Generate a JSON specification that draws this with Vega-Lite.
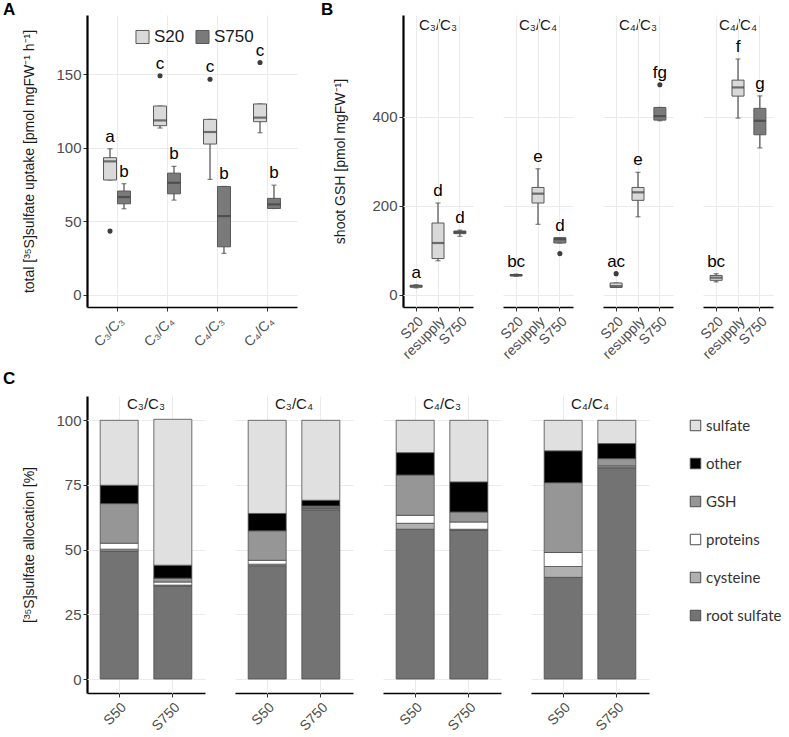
{
  "$schema": "https://vega.github.io/schema/vega-lite/v6.json",
  "padding": {"left": 2, "top": 1, "right": 0, "bottom": 0},
  "background": "white",
  "config": {
    "font": "Liberation Sans",
    "view": {"stroke": null},
    "axis": {"labelFont": "Liberation Sans", "labelColor": "#4d4d4d", "labelFontSize": 15, "titleFont": "Liberation Sans", "titleFontWeight": "normal", "titleColor": "#1a1a1a", "titleFontSize": 14, "domainColor": "#000000", "domainWidth": 1.6, "tickColor": "#333333", "tickSize": 4, "gridColor": "#ebebeb", "gridWidth": 1},
    "axisX": {"labelAngle": -45, "labelAlign": "right", "labelBaseline": "top", "labelFontSize": 14, "labelPadding": 3, "grid": true},
    "axisY": {"grid": true},
    "header": {"labelFont": "Liberation Sans", "labelFontSize": 15, "labelColor": "#1a1a1a"},
    "title": {"font": "Liberation Sans", "fontSize": 17, "fontWeight": "bold", "anchor": "start", "frame": "bounds", "color": "#000000"}
  },
  "datasets": {
    "a": [
      {"graft": "C₃/C₃", "trt": "S20", "lo": 78, "q1": 78, "med": 90.7, "q3": 93.2, "hi": 99.3, "out": 43.2, "letter": "a"},
      {"graft": "C₃/C₃", "trt": "S750", "lo": 58.4, "q1": 61.8, "med": 66.4, "q3": 70.5, "hi": 75.5, "out": null, "letter": "b"},
      {"graft": "C₃/C₄", "trt": "S20", "lo": 113.4, "q1": 115, "med": 118.6, "q3": 128.4, "hi": 128.4, "out": 149, "letter": "c"},
      {"graft": "C₃/C₄", "trt": "S750", "lo": 64.3, "q1": 68.6, "med": 76.1, "q3": 82.7, "hi": 87.3, "out": null, "letter": "b"},
      {"graft": "C₄/C₃", "trt": "S20", "lo": 78.4, "q1": 102.5, "med": 110.7, "q3": 119.3, "hi": 119.3, "out": 146.6, "letter": "c"},
      {"graft": "C₄/C₃", "trt": "S750", "lo": 28, "q1": 32.5, "med": 53.4, "q3": 73.6, "hi": 73.6, "out": null, "letter": "b"},
      {"graft": "C₄/C₄", "trt": "S20", "lo": 110.2, "q1": 117.7, "med": 120.5, "q3": 129.8, "hi": 129.8, "out": 158, "letter": "c"},
      {"graft": "C₄/C₄", "trt": "S750", "lo": 58.6, "q1": 58.6, "med": 61.4, "q3": 65.5, "hi": 74.5, "out": null, "letter": "b"}
    ],
    "b": [
      {"graft": "C₃/C₃", "trt": "S20", "lo": 15, "q1": 16.5, "med": 18.8, "q3": 21, "hi": 22, "out": null, "letter": "a"},
      {"graft": "C₃/C₃", "trt": "resupply", "lo": 76, "q1": 81, "med": 116, "q3": 161, "hi": 206, "out": null, "letter": "d"},
      {"graft": "C₃/C₃", "trt": "S750", "lo": 131, "q1": 137, "med": 140, "q3": 143, "hi": 145, "out": null, "letter": "d"},
      {"graft": "C₃/C₄", "trt": "S20", "lo": 41, "q1": 42, "med": 43.5, "q3": 45, "hi": 46, "out": null, "letter": "bc"},
      {"graft": "C₃/C₄", "trt": "resupply", "lo": 158, "q1": 206, "med": 227, "q3": 241, "hi": 283, "out": null, "letter": "e"},
      {"graft": "C₃/C₄", "trt": "S750", "lo": 116, "q1": 116, "med": 124.6, "q3": 128, "hi": 128, "out": 92, "letter": "d"},
      {"graft": "C₄/C₃", "trt": "S20", "lo": 16, "q1": 16, "med": 19, "q3": 26, "hi": 26, "out": 47, "letter": "ac"},
      {"graft": "C₄/C₃", "trt": "resupply", "lo": 175, "q1": 212, "med": 230, "q3": 241, "hi": 275, "out": null, "letter": "e"},
      {"graft": "C₄/C₃", "trt": "S750", "lo": 391, "q1": 392.5, "med": 401.5, "q3": 421, "hi": 421, "out": 472, "letter": "fg"},
      {"graft": "C₄/C₄", "trt": "S20", "lo": 28.5, "q1": 32, "med": 38, "q3": 43, "hi": 47, "out": null, "letter": "bc"},
      {"graft": "C₄/C₄", "trt": "resupply", "lo": 397, "q1": 446.5, "med": 466, "q3": 482.5, "hi": 530, "out": null, "letter": "f"},
      {"graft": "C₄/C₄", "trt": "S750", "lo": 330, "q1": 359.5, "med": 391, "q3": 419, "hi": 447, "out": null, "letter": "g"}
    ],
    "c": [
      {"graft": "C₃/C₃", "supply": "S50", "fraction": "root sulfate", "value": 49.5},
      {"graft": "C₃/C₃", "supply": "S50", "fraction": "cysteine", "value": 0.7},
      {"graft": "C₃/C₃", "supply": "S50", "fraction": "proteins", "value": 2.3},
      {"graft": "C₃/C₃", "supply": "S50", "fraction": "GSH", "value": 15.3},
      {"graft": "C₃/C₃", "supply": "S50", "fraction": "other", "value": 7.1},
      {"graft": "C₃/C₃", "supply": "S50", "fraction": "sulfate", "value": 25.1},
      {"graft": "C₃/C₃", "supply": "S750", "fraction": "root sulfate", "value": 35.8},
      {"graft": "C₃/C₃", "supply": "S750", "fraction": "cysteine", "value": 0.5},
      {"graft": "C₃/C₃", "supply": "S750", "fraction": "proteins", "value": 1.2},
      {"graft": "C₃/C₃", "supply": "S750", "fraction": "GSH", "value": 1.5},
      {"graft": "C₃/C₃", "supply": "S750", "fraction": "other", "value": 5.0},
      {"graft": "C₃/C₃", "supply": "S750", "fraction": "sulfate", "value": 56.4},
      {"graft": "C₃/C₄", "supply": "S50", "fraction": "root sulfate", "value": 43.8},
      {"graft": "C₃/C₄", "supply": "S50", "fraction": "cysteine", "value": 0.6},
      {"graft": "C₃/C₄", "supply": "S50", "fraction": "proteins", "value": 1.5},
      {"graft": "C₃/C₄", "supply": "S50", "fraction": "GSH", "value": 11.4},
      {"graft": "C₃/C₄", "supply": "S50", "fraction": "other", "value": 6.7},
      {"graft": "C₃/C₄", "supply": "S50", "fraction": "sulfate", "value": 36.0},
      {"graft": "C₃/C₄", "supply": "S750", "fraction": "root sulfate", "value": 65.4},
      {"graft": "C₃/C₄", "supply": "S750", "fraction": "cysteine", "value": 0.5},
      {"graft": "C₃/C₄", "supply": "S750", "fraction": "proteins", "value": 0.3},
      {"graft": "C₃/C₄", "supply": "S750", "fraction": "GSH", "value": 0.7},
      {"graft": "C₃/C₄", "supply": "S750", "fraction": "other", "value": 2.2},
      {"graft": "C₃/C₄", "supply": "S750", "fraction": "sulfate", "value": 30.9},
      {"graft": "C₄/C₃", "supply": "S50", "fraction": "root sulfate", "value": 57.9},
      {"graft": "C₄/C₃", "supply": "S50", "fraction": "cysteine", "value": 2.3},
      {"graft": "C₄/C₃", "supply": "S50", "fraction": "proteins", "value": 3.1},
      {"graft": "C₄/C₃", "supply": "S50", "fraction": "GSH", "value": 15.6},
      {"graft": "C₄/C₃", "supply": "S50", "fraction": "other", "value": 8.6},
      {"graft": "C₄/C₃", "supply": "S50", "fraction": "sulfate", "value": 12.5},
      {"graft": "C₄/C₃", "supply": "S750", "fraction": "root sulfate", "value": 57.6},
      {"graft": "C₄/C₃", "supply": "S750", "fraction": "cysteine", "value": 0.3},
      {"graft": "C₄/C₃", "supply": "S750", "fraction": "proteins", "value": 2.8},
      {"graft": "C₄/C₃", "supply": "S750", "fraction": "GSH", "value": 3.9},
      {"graft": "C₄/C₃", "supply": "S750", "fraction": "other", "value": 11.6},
      {"graft": "C₄/C₃", "supply": "S750", "fraction": "sulfate", "value": 23.8},
      {"graft": "C₄/C₄", "supply": "S50", "fraction": "root sulfate", "value": 39.3},
      {"graft": "C₄/C₄", "supply": "S50", "fraction": "cysteine", "value": 4.2},
      {"graft": "C₄/C₄", "supply": "S50", "fraction": "proteins", "value": 5.4},
      {"graft": "C₄/C₄", "supply": "S50", "fraction": "GSH", "value": 27.0},
      {"graft": "C₄/C₄", "supply": "S50", "fraction": "other", "value": 12.3},
      {"graft": "C₄/C₄", "supply": "S50", "fraction": "sulfate", "value": 11.8},
      {"graft": "C₄/C₄", "supply": "S750", "fraction": "root sulfate", "value": 81.5},
      {"graft": "C₄/C₄", "supply": "S750", "fraction": "cysteine", "value": 0.5},
      {"graft": "C₄/C₄", "supply": "S750", "fraction": "proteins", "value": 0.4},
      {"graft": "C₄/C₄", "supply": "S750", "fraction": "GSH", "value": 2.8},
      {"graft": "C₄/C₄", "supply": "S750", "fraction": "other", "value": 5.8},
      {"graft": "C₄/C₄", "supply": "S750", "fraction": "sulfate", "value": 9.0}
    ]
  },
  "spacing": 8,
  "resolve": {"scale": {"color": "independent"}, "legend": {"color": "independent"}},
  "vconcat": [
    {
      "spacing": 23,
      "resolve": {"scale": {"color": "independent"}, "legend": {"color": "independent"}},
      "hconcat": [
        {
          "title": {"text": "A", "offset": -4, "dx": -20},
          "width": 210,
          "height": 292,
          "data": {"name": "a"},
          "transform": [{"calculate": "isValid(datum.out) ? max(datum.hi, datum.out) : datum.hi", "as": "top"}],
          "encoding": {
            "x": {"field": "graft", "type": "nominal", "sort": null, "title": null, "scale": {"paddingOuter": 0.1, "paddingInner": 0}},
            "xOffset": {"field": "trt", "type": "nominal", "sort": ["S20", "S750"], "scale": {"paddingOuter": 0.79, "paddingInner": 0}}
          },
          "layer": [
            {"mark": {"type": "rule", "color": "#4d4d4d", "strokeWidth": 1.2},
             "encoding": {"y": {"field": "lo", "type": "quantitative", "scale": {"domain": [-8.5, 190.4], "nice": false, "zero": false},
               "axis": {"values": [0, 50, 100, 150], "domainWidth": 2.2, "titlePadding": 19, "title": "total [³⁵S]sulfate uptake [pmol mgFW⁻¹ h⁻¹]"}},
               "y2": {"field": "hi"}}},
            {"mark": {"type": "tick", "color": "#4d4d4d", "size": 5, "thickness": 1.2}, "encoding": {"y": {"field": "lo", "type": "quantitative"}}},
            {"mark": {"type": "tick", "color": "#4d4d4d", "size": 5, "thickness": 1.2}, "encoding": {"y": {"field": "hi", "type": "quantitative"}}},
            {"mark": {"type": "bar", "width": 13, "stroke": "#595959", "strokeWidth": 1},
             "encoding": {"y": {"field": "q1", "type": "quantitative"}, "y2": {"field": "q3"},
               "color": {"field": "trt", "type": "nominal", "scale": {"domain": ["S20", "S750"], "range": ["#d9d9d9", "#7a7a7a"]},
                 "legend": {"title": null, "orient": "none", "legendX": 47, "legendY": 13, "direction": "horizontal", "symbolType": "square", "symbolSize": 170, "symbolStrokeColor": "#595959", "symbolStrokeWidth": 1, "symbolOpacity": 1, "labelFontSize": 17, "labelColor": "#1a1a1a", "columnPadding": 8, "labelOffset": 3}}}},
            {"mark": {"type": "tick", "color": "#3d3d3d", "size": 13, "thickness": 2.2}, "encoding": {"y": {"field": "med", "type": "quantitative"}}},
            {"transform": [{"filter": "isValid(datum.out)"}], "mark": {"type": "circle", "color": "#3d3d3d", "size": 26, "opacity": 1}, "encoding": {"y": {"field": "out", "type": "quantitative"}}},
            {"mark": {"type": "text", "baseline": "bottom", "dy": -3, "fontSize": 17, "color": "#000000"}, "encoding": {"y": {"field": "top", "type": "quantitative"}, "text": {"field": "letter"}}}
          ]
        },
        {
          "title": {"text": "B", "offset": -4, "dx": -13},
          "data": {"name": "b"},
          "transform": [{"calculate": "isValid(datum.out) ? max(datum.hi, datum.out) : datum.hi", "as": "top"}],
          "facet": {"column": {"field": "graft", "type": "nominal", "sort": ["C₃/C₃", "C₃/C₄", "C₄/C₃", "C₄/C₄"], "header": {"title": null, "labelPadding": -18}}},
          "spacing": 30,
          "spec": {
            "width": 70,
            "height": 292,
            "encoding": {
              "x": {"field": "trt", "type": "nominal", "sort": ["S20", "resupply", "S750"], "title": null, "scale": {"paddingOuter": 0.1, "paddingInner": 0}}
            },
            "layer": [
              {"mark": {"type": "rule", "color": "#4d4d4d", "strokeWidth": 1.2},
               "encoding": {"y": {"field": "lo", "type": "quantitative", "scale": {"domain": [-28, 629], "nice": false, "zero": false},
                 "axis": {"values": [0, 200, 400], "domainWidth": 2.2, "titlePadding": 24, "title": "shoot GSH [pmol mgFW⁻¹]"}},
                 "y2": {"field": "hi"}}},
              {"mark": {"type": "tick", "color": "#4d4d4d", "size": 5, "thickness": 1.2}, "encoding": {"y": {"field": "lo", "type": "quantitative"}}},
              {"mark": {"type": "tick", "color": "#4d4d4d", "size": 5, "thickness": 1.2}, "encoding": {"y": {"field": "hi", "type": "quantitative"}}},
              {"mark": {"type": "bar", "width": 12, "stroke": "#595959", "strokeWidth": 1},
               "encoding": {"y": {"field": "q1", "type": "quantitative"}, "y2": {"field": "q3"},
                 "color": {"field": "trt", "type": "nominal", "scale": {"domain": ["S20", "resupply", "S750"], "range": ["#d9d9d9", "#d9d9d9", "#7a7a7a"]}, "legend": null}}},
              {"mark": {"type": "tick", "color": "#3d3d3d", "size": 12, "thickness": 2.2}, "encoding": {"y": {"field": "med", "type": "quantitative"}}},
              {"transform": [{"filter": "isValid(datum.out)"}], "mark": {"type": "circle", "color": "#3d3d3d", "size": 26, "opacity": 1}, "encoding": {"y": {"field": "out", "type": "quantitative"}}},
              {"mark": {"type": "text", "baseline": "bottom", "dy": -3, "fontSize": 17, "color": "#000000"}, "encoding": {"y": {"field": "top", "type": "quantitative"}, "text": {"field": "letter"}}}
            ]
          }
        }
      ]
    },
    {
      "title": {"text": "C", "offset": 8, "dx": -20},
      "data": {"name": "c"},
      "transform": [{"calculate": "indexof(['root sulfate','cysteine','proteins','GSH','other','sulfate'], datum.fraction)", "as": "stackorder"}],
      "facet": {"column": {"field": "graft", "type": "nominal", "sort": ["C₃/C₃", "C₃/C₄", "C₄/C₃", "C₄/C₄"], "header": {"title": null, "labelPadding": -16}}},
      "spacing": 30,
      "spec": {
        "width": 118,
        "height": 297,
        "mark": {"type": "bar", "width": 38, "stroke": "#4d4d4d", "strokeWidth": 0.8},
        "encoding": {
          "x": {"field": "supply", "type": "nominal", "sort": ["S50", "S750"], "title": null, "scale": {"paddingOuter": 0.1, "paddingInner": 0}},
          "y": {"field": "value", "type": "quantitative", "stack": "zero", "scale": {"domain": [-5.4, 109.4], "nice": false, "zero": false},
            "axis": {"values": [0, 25, 50, 75, 100], "domainWidth": 2.2, "titlePadding": 19, "title": "[³⁵S]sulfate allocation [%]"}},
          "color": {"field": "fraction", "type": "nominal",
            "scale": {"domain": ["sulfate", "other", "GSH", "proteins", "cysteine", "root sulfate"], "range": ["#e0e0e0", "#000000", "#969696", "#ffffff", "#b0b0b0", "#737373"]},
            "legend": {"title": null, "offset": 17, "symbolType": "square", "symbolSize": 110, "symbolStrokeColor": "#4d4d4d", "symbolStrokeWidth": 1, "symbolOpacity": 1, "labelFontSize": 15, "labelFont": "Lato", "labelColor": "#333333", "labelOffset": 3, "rowPadding": 22, "padding": 22}},
          "order": {"field": "stackorder", "type": "quantitative", "sort": "ascending"}
        }
      }
    }
  ]
}
